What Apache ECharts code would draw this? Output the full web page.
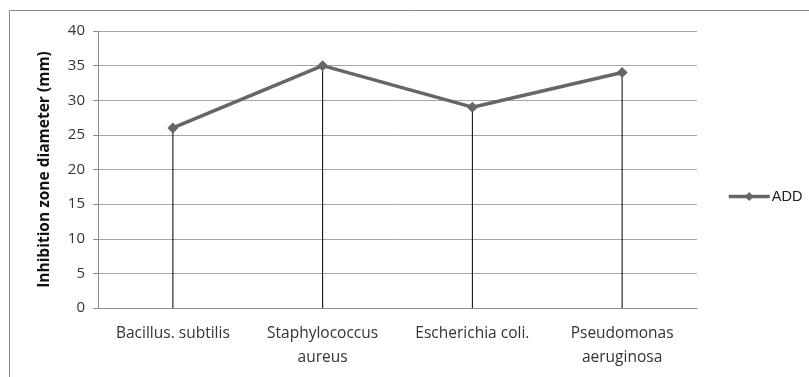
<!DOCTYPE html>
<html>
<head>
<meta charset="utf-8">
<script src="https://cdn.jsdelivr.net/npm/echarts@6/dist/echarts.min.js"></script>
<style>
html,body{margin:0;padding:0;background:#fff;}
#chart{width:809px;height:377px;}
</style>
</head>
<body>
<div id="chart"></div>
<script>
// Inhibition zone diameters per bacterial strain
const categories = ['Bacillus. subtilis', 'Staphylococcus\naureus', 'Escherichia coli.', 'Pseudomonas\naeruginosa'];
const addValues = [26, 35, 29, 34];
const seriesName = 'ADD';
const yTicks = { min: 0, max: 40, interval: 5 };

const chart = echarts.init(document.getElementById('chart'));
const font = '"Open Sans", sans-serif';
const diamond = 'path://M0,5L5,0L10,5L5,10Z';

chart.setOption({
  animation: false,
  graphic: [{
    type: 'rect',
    shape: { x: 9.5, y: 10.5, width: 900, height: 500 },
    style: { fill: 'none', stroke: '#8c8c8c', lineWidth: 1 },
    silent: true
  }],
  grid: { left: 98, top: 31, width: 599, height: 277, containLabel: false },
  legend: {
    data: [seriesName],
    left: 722, top: 184,
    itemWidth: 41, itemHeight: 11,
    itemGap: 2,
    lineStyle: { width: 3.5, color: '#666666' },
    itemStyle: { color: '#666666' },
    textStyle: { fontFamily: 'Liberation Sans, Arial, sans-serif', fontSize: 14.5, color: '#222', padding: [0, 0, 0, -3] }
  },
  xAxis: {
    type: 'category',
    data: categories,
    boundaryGap: true,
    axisLine: { lineStyle: { color: '#8c8c8c', width: 1 } },
    axisTick: { show: false },
    axisLabel: { margin: 14, fontFamily: font, fontSize: 15.5, color: '#333', lineHeight: 24, interval: 0 },
    splitLine: { show: false }
  },
  yAxis: {
    type: 'value',
    min: yTicks.min, max: yTicks.max, interval: yTicks.interval,
    name: 'Inhibition zone diameter (mm)',
    nameLocation: 'middle',
    nameGap: 45,
    nameTextStyle: { fontFamily: font, fontSize: 15.5, fontWeight: 'bold', color: '#111' },
    axisLine: { show: true, lineStyle: { color: '#8c8c8c', width: 1 } },
    axisTick: { show: true, length: 5, lineStyle: { color: '#8c8c8c' } },
    axisLabel: { margin: 13, fontFamily: font, fontSize: 15, color: '#333' },
    splitLine: { lineStyle: { color: '#a6a6a6', width: 1 } }
  },
  series: [
    {
      // drop lines from each point down to the category axis
      type: 'bar',
      data: addValues,
      barWidth: 1,
      itemStyle: { color: '#000' },
      silent: true,
      legendHoverLink: false,
      z: 1
    },
    {
      name: seriesName,
      type: 'line',
      data: addValues,
      symbol: diamond,
      symbolSize: 11,
      lineStyle: { color: '#666666', width: 3.5 },
      itemStyle: { color: '#666666' },
      z: 3
    }
  ]
});
</script>
</body>
</html>
